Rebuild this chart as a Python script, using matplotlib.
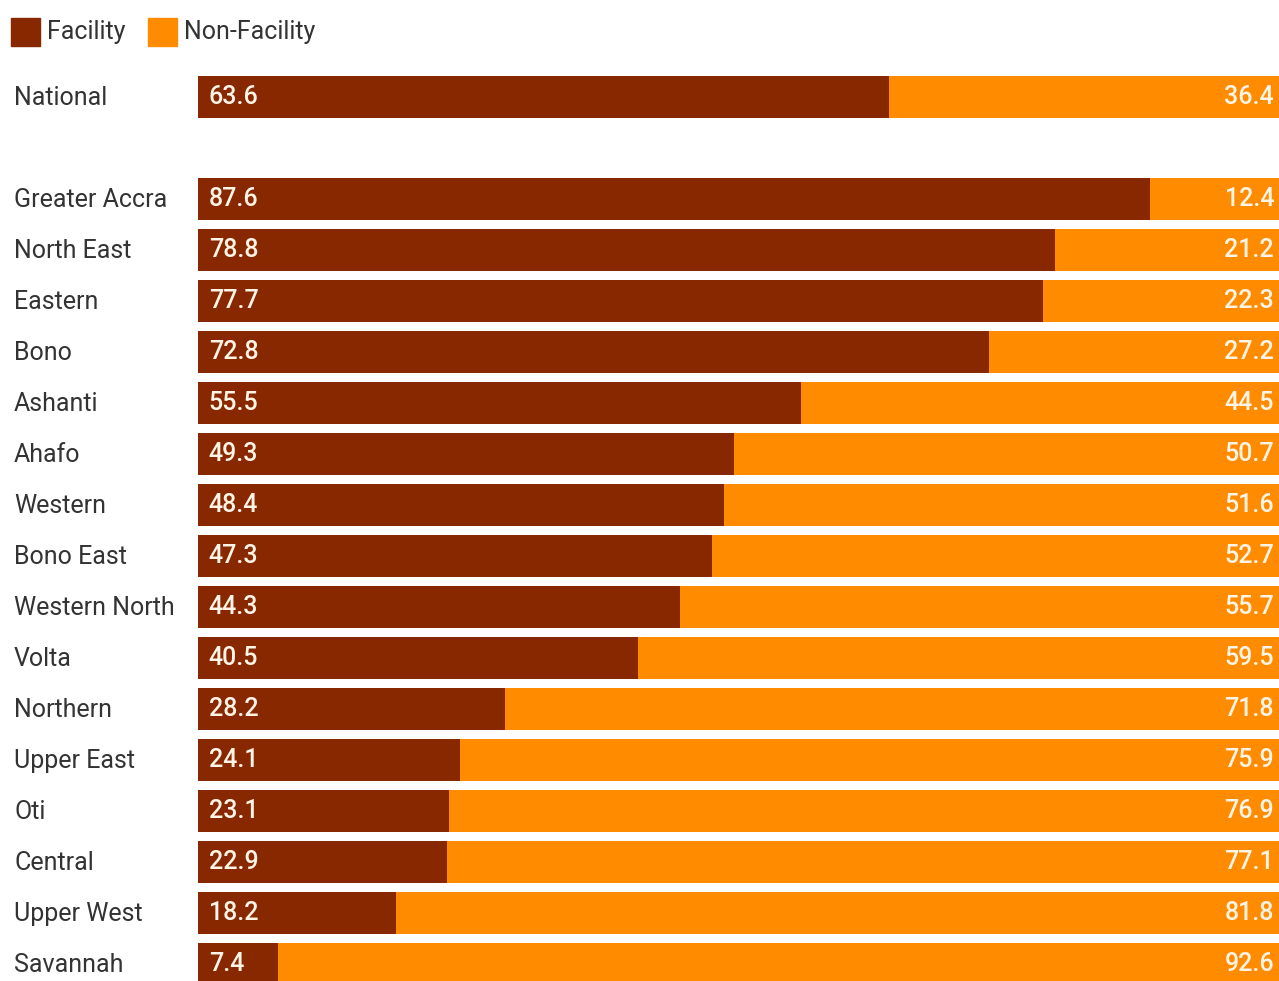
import matplotlib
matplotlib.use("Agg")
import matplotlib.pyplot as plt
from matplotlib.patches import Rectangle

plt.rcParams['font.family'] = ['Roboto', 'DejaVu Sans']

categories = ["National", "Greater Accra", "North East", "Eastern", "Bono", "Ashanti",
              "Ahafo", "Western", "Bono East", "Western North", "Volta", "Northern",
              "Upper East", "Oti", "Central", "Upper West", "Savannah"]
facility = [63.6, 87.6, 78.8, 77.7, 72.8, 55.5, 49.3, 48.4, 47.3, 44.3, 40.5, 28.2,
            24.1, 23.1, 22.9, 18.2, 7.4]
non_facility = [36.4, 12.4, 21.2, 22.3, 27.2, 44.5, 50.7, 51.6, 52.7, 55.7, 59.5, 71.8,
                75.9, 76.9, 77.1, 81.8, 92.6]

C_FAC = "#872800"
C_NON = "#FF8C00"
TXT = "#333333"
VAL = "#FFF4E6"
FS = 18

W, H = 1279, 981
AX_W = 1087  # plot width in px (slightly cropped at the right edge)
fig = plt.figure(figsize=(W / 100, H / 100), dpi=100)
ax = fig.add_axes([198 / W, 0, AX_W / W, 1])

# positions: National at 0, blank slot, regions from 2 onwards
pos = [0] + [i + 2 for i in range(len(categories) - 1)]
h = 42 / 51

ax.barh(pos, facility, height=h, color=C_FAC)
ax.barh(pos, non_facility, left=facility, height=h, color=C_NON)

ax.set_xlim(0, 100)
top = -97 / 51
bottom = (H - 97) / 51
ax.set_ylim(bottom, top)
ax.axis("off")

xt = ax.get_yaxis_transform()
for p, cat, f, n in zip(pos, categories, facility, non_facility):
    ax.text(1.0, p, f"{f:.1f}", color=VAL, fontsize=FS, fontweight="medium",
            va="center", ha="left")
    ax.text((1274 - 198) / AX_W * 100, p, f"{n:.1f}", color=VAL, fontsize=FS,
            fontweight="medium", va="center", ha="right")
    ax.text(-184 / AX_W, p + 0.02, cat, transform=xt, color=TXT, fontsize=FS,
            va="center", ha="left")

# legend
for x0, col, lab in [(11, C_FAC, "Facility"), (148, C_NON, "Non-Facility")]:
    fig.patches.append(Rectangle((x0 / W, 1 - 46 / H), 29 / W, 28 / H,
                                 transform=fig.transFigure, color=col))
    fig.text((x0 + 36) / W, 1 - 32 / H, lab, color=TXT, fontsize=FS,
             va="center", ha="left")

fig.savefig("out.png", dpi=100)
